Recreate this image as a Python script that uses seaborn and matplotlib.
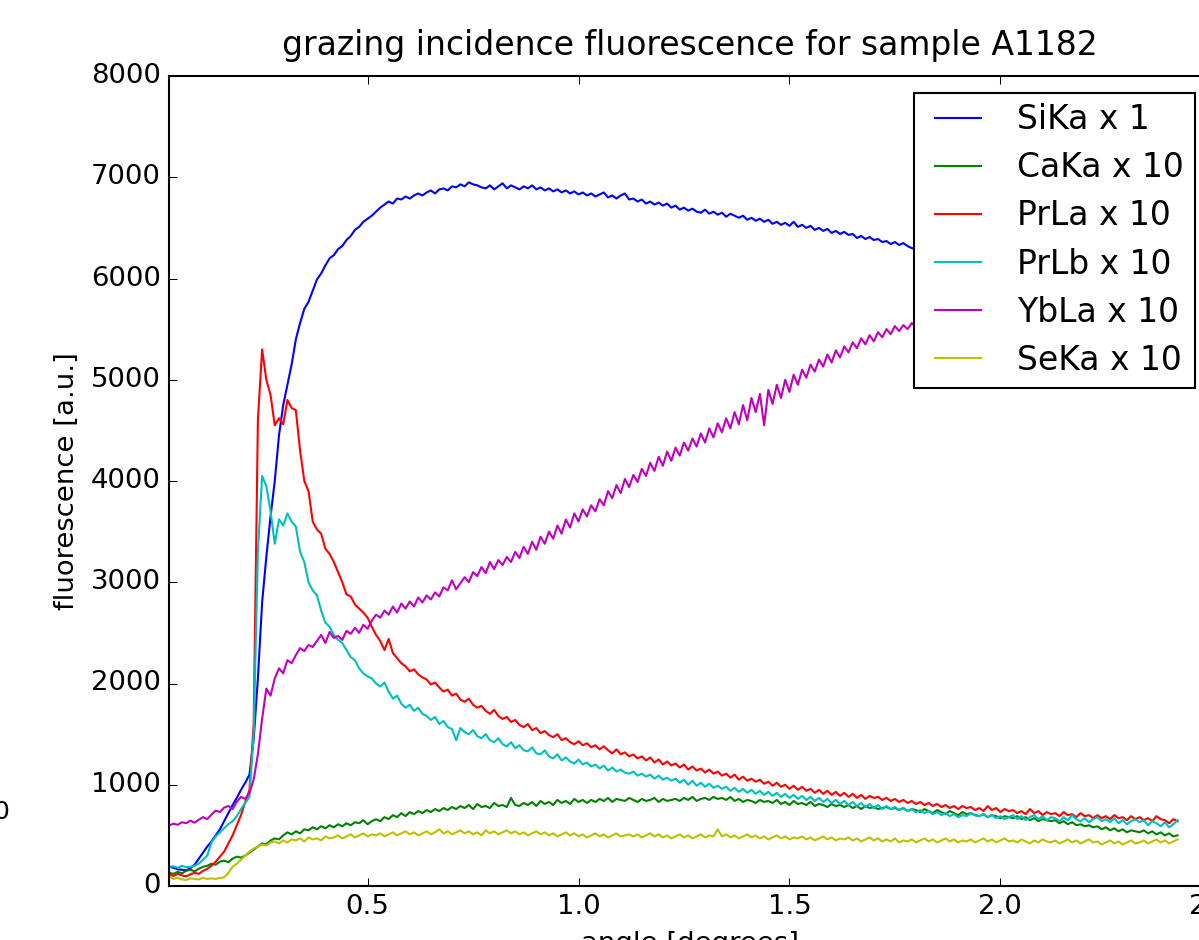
import numpy as np
import matplotlib
matplotlib.use("Agg")
import matplotlib.pyplot as plt
import seaborn as sns

# ---------------- data ----------------
angle = np.round(np.arange(0.03, 2.425, 0.01), 2)

labels = ["SiKa x 1", "CaKa x 10", "PrLa x 10", "PrLb x 10", "YbLa x 10", "SeKa x 10"]
colors = ["b", "g", "r", "c", "m", "y"]

sika = [
    190, 180, 165, 160, 155, 175, 210, 270, 330, 390,
    440, 500, 560, 640, 720, 800, 870, 950, 1020, 1100,
    1450, 2050, 2800, 3250, 3650, 4000, 4450, 4750, 4950, 5150,
    5400, 5560, 5700, 5770, 5880, 5990, 6050, 6130, 6200, 6230,
    6290, 6320, 6380, 6420, 6480, 6510, 6560, 6590, 6620, 6660,
    6700, 6730, 6760, 6740, 6790, 6780, 6810, 6790, 6820, 6840,
    6820, 6850, 6870, 6840, 6880, 6890, 6870, 6910, 6900, 6930,
    6910, 6950, 6930, 6920, 6900, 6890, 6920, 6880, 6910, 6940,
    6890, 6920, 6900, 6880, 6910, 6890, 6920, 6880, 6900, 6870,
    6890, 6860, 6880, 6850, 6870, 6840, 6860, 6830, 6850, 6820,
    6840, 6810, 6830, 6850, 6800, 6820, 6790, 6820, 6840, 6780,
    6790, 6760, 6780, 6740, 6760, 6730, 6750, 6720, 6740, 6700,
    6720, 6680, 6700, 6670, 6690, 6660, 6650, 6680, 6640, 6660,
    6630, 6650, 6610, 6640, 6620, 6600, 6620, 6580, 6600, 6570,
    6590, 6560, 6580, 6540, 6560, 6530, 6550, 6520, 6560, 6510,
    6530, 6500, 6520, 6480, 6500, 6470, 6490, 6450, 6470, 6440,
    6460, 6430, 6440, 6400, 6420, 6390, 6410, 6380, 6390, 6360,
    6370, 6340, 6360, 6330, 6350, 6320, 6300, 6290, 6280, 6260,
    6250, 6240, 6230, 6210, 6200, 6190, 6180, 6170, 6150, 6140,
    6130, 6120, 6110, 6100, 6090, 6080, 6070, 6060, 6050, 6040,
    6030, 6020, 6010, 6000, 5990, 5980, 5970, 5960, 5950, 5940,
    5930, 5920, 5910, 5900, 5890, 5880, 5870, 5860, 5850, 5840,
    5830, 5820, 5810, 5800, 5790, 5780, 5770, 5760, 5750, 5740,
    5730, 5720, 5710, 5700, 5690, 5680, 5670, 5660, 5650, 5640,
]

caka = [
    130, 120, 140, 125, 150, 160, 145, 170, 190, 200,
    220, 210, 240, 250, 235, 270, 290, 280, 300, 330,
    360, 390, 420, 410, 450, 470, 460, 500, 530, 510,
    540, 520, 560, 550, 580, 560, 590, 570, 600, 580,
    610, 590, 620, 600, 630, 620, 650, 610, 640, 660,
    640, 680, 660, 700, 680, 720, 690, 730, 710, 740,
    720, 750, 730, 760, 740, 770, 750, 780, 760, 790,
    770, 800, 760, 810, 780, 790, 770, 820, 790, 800,
    780, 870, 800, 790, 820, 800, 830, 790, 840, 810,
    830, 800, 850, 820, 840, 810, 860, 830, 850, 820,
    850, 830, 860, 840, 870, 830, 860, 850, 840, 870,
    850, 830, 860, 840, 850, 870, 830, 860, 840, 850,
    860, 840, 870, 850, 880, 840, 860, 870, 850, 880,
    860, 870, 850, 880, 840, 860, 830, 850, 840, 820,
    850, 830, 840, 820, 850, 810, 830, 800, 840, 810,
    820, 800, 830, 790, 810, 800, 780, 810, 790, 800,
    780, 800, 770, 790, 760, 790, 770, 780, 760, 770,
    780, 760, 770, 750, 770, 740, 760, 750, 730, 760,
    740, 720, 750, 730, 710, 740, 720, 700, 730, 710,
    720, 700, 690, 710, 680, 700, 690, 670, 690, 680,
    670, 690, 660, 680, 650, 670, 640, 660, 650, 640,
    650, 620, 640, 610, 630, 600, 610, 590, 600, 580,
    590, 560, 580, 550, 570, 540, 560, 530, 550, 540,
    530, 550, 520, 540, 510, 530, 500, 520, 490, 500,
]

prla = [
    110, 100, 120, 105, 95, 115, 130, 120, 150, 170,
    200, 240, 290, 340, 420, 500, 600, 700, 830, 950,
    1600, 4600, 5300, 5000, 4850, 4550, 4620, 4560, 4800, 4720,
    4700, 4300, 4000, 3900, 3600, 3520, 3480, 3330, 3280, 3200,
    3100, 3000, 2880, 2860, 2780, 2740, 2700, 2650, 2560, 2480,
    2420, 2330, 2440, 2300, 2250, 2200, 2170, 2120, 2140, 2090,
    2060, 2040, 1990, 2010, 1960, 1920, 1940, 1880, 1900, 1840,
    1820, 1850, 1790, 1760, 1780, 1730, 1700, 1740, 1680, 1650,
    1670, 1620, 1640, 1590, 1570, 1600, 1540, 1560, 1510, 1530,
    1490, 1470, 1500, 1440, 1460, 1420, 1400, 1430, 1390, 1410,
    1370, 1390, 1350, 1380, 1340, 1310, 1350, 1300, 1320, 1280,
    1300, 1260, 1280, 1240, 1270, 1220, 1250, 1200, 1230, 1190,
    1210, 1170, 1200, 1150, 1180, 1140, 1160, 1120, 1150, 1110,
    1130, 1090, 1110, 1070, 1100, 1050, 1080, 1040, 1060, 1030,
    1050, 1010, 1030, 990, 1020, 980, 1000, 960, 990, 950,
    980, 940, 960, 920, 950, 910, 940, 900, 930, 890,
    920, 880, 910, 870, 900, 860, 890, 870, 880, 850,
    870, 840, 860, 830, 850, 820, 840, 810, 830, 800,
    820, 790, 810, 780, 800, 770, 790, 760, 790, 770,
    780, 750, 770, 740, 790, 750, 770, 730, 760, 740,
    750, 720, 740, 710, 760, 720, 740, 700, 730, 710,
    720, 690, 730, 700, 710, 680, 720, 690, 700, 670,
    700, 670, 690, 660, 700, 670, 680, 650, 690, 660,
    680, 650, 670, 640, 690, 660, 650, 620, 660, 640,
]

prlb = [
    190, 195, 180, 200, 185, 190, 200, 220, 260, 300,
    430, 490, 530, 570, 610, 640, 690, 760, 820, 880,
    1500, 3300, 4050, 3950, 3700, 3380, 3620, 3560, 3680, 3600,
    3550, 3300, 3200, 3000, 2920, 2870, 2720, 2600, 2560, 2480,
    2430, 2400, 2330, 2260, 2230, 2150, 2100, 2070, 2050, 2000,
    1970, 2010, 1920, 1850, 1880, 1800, 1760, 1790, 1730, 1760,
    1700, 1680, 1640, 1670, 1600, 1630, 1570, 1550, 1440, 1560,
    1520, 1500, 1540, 1480, 1460, 1500, 1440, 1420, 1460, 1400,
    1380, 1420, 1360, 1390, 1340, 1330, 1370, 1310, 1300, 1340,
    1280, 1260, 1300, 1240, 1270, 1230, 1210, 1250, 1200, 1220,
    1180, 1200, 1160, 1190, 1140, 1170, 1130, 1150, 1120, 1110,
    1130, 1090, 1110, 1080, 1100, 1060, 1090, 1050, 1070, 1040,
    1060, 1020, 1050, 1000, 1040, 990, 1020, 980, 1010, 970,
    990, 960, 980, 940, 970, 930, 960, 920, 950, 910,
    940, 900, 930, 890, 920, 880, 910, 870, 900, 860,
    890, 850, 880, 840, 870, 830, 860, 820, 850, 810,
    840, 800, 830, 790, 820, 780, 810, 770, 800, 760,
    790, 760, 780, 750, 770, 740, 760, 730, 750, 720,
    740, 710, 730, 700, 720, 690, 710, 680, 700, 690,
    720, 700, 690, 710, 680, 700, 670, 690, 660, 680,
    700, 660, 690, 650, 680, 700, 660, 690, 650, 680,
    670, 640, 680, 650, 700, 660, 640, 670, 630, 660,
    680, 640, 660, 630, 670, 620, 650, 610, 640, 660,
    630, 650, 600, 640, 620, 590, 630, 580, 610, 650,
]

ybla = [
    600, 615, 605, 630, 620, 645, 625, 655, 680, 660,
    705, 745, 730, 775, 790, 760, 830, 880, 860, 920,
    1050, 1300, 1650, 1950, 1880, 2050, 2150, 2100, 2230, 2200,
    2280, 2350, 2320, 2380, 2360, 2420, 2480, 2400, 2510, 2450,
    2470, 2430, 2520, 2490, 2550, 2500, 2580, 2540, 2620, 2680,
    2650, 2720, 2680, 2760, 2700, 2790, 2740, 2810, 2760, 2850,
    2800, 2870, 2830, 2900, 2860, 2950, 2920, 3020, 2930, 2990,
    3050, 3000, 3100, 3060, 3150, 3090, 3200, 3130, 3220, 3170,
    3250, 3200, 3300, 3240, 3350, 3280, 3400, 3320, 3450, 3380,
    3500, 3430, 3560, 3480, 3620, 3540, 3680, 3600, 3720, 3650,
    3760, 3700, 3820, 3760, 3900, 3830, 3960, 3880, 4020, 3940,
    4060, 3990, 4120, 4050, 4180, 4100, 4240, 4150, 4290, 4200,
    4330, 4250, 4380, 4300, 4420, 4340, 4470, 4380, 4520, 4430,
    4570, 4480, 4620, 4520, 4680, 4560, 4750, 4600, 4820, 4680,
    4860, 4550, 4900, 4760, 4950, 4820, 5000, 4880, 5050, 4950,
    5100, 5020, 5150, 5080, 5200, 5130, 5250, 5170, 5290, 5220,
    5330, 5270, 5370, 5310, 5410, 5350, 5440, 5380, 5470, 5420,
    5500, 5450, 5530, 5480, 5540, 5500, 5560, 5520, 5580, 5540,
    5600, 5570, 5620, 5590, 5640, 5610, 5660, 5630, 5680, 5650,
    5700, 5670, 5720, 5690, 5740, 5710, 5760, 5730, 5780, 5750,
    5800, 5770, 5820, 5790, 5840, 5810, 5860, 5830, 5880, 5850,
    5900, 5870, 5920, 5890, 5940, 5910, 5960, 5930, 5980, 5950,
    6000, 5970, 6020, 5990, 6040, 6010, 6060, 6030, 6080, 6050,
    6100, 6070, 6120, 6090, 6140, 6110, 6160, 6130, 6180, 6150,
]

seka = [
    90, 70, 80, 65, 60, 75, 70, 65, 80, 70,
    75, 70, 80, 85, 130, 190, 220, 260, 300, 340,
    370, 390, 410, 400, 430, 440, 420, 450, 430, 460,
    450, 470, 440, 480, 460, 470, 450, 490, 470, 480,
    500, 470, 490, 510, 480, 500, 520, 490, 510, 500,
    520, 490, 510, 530, 500, 520, 540, 510, 530, 500,
    520, 540, 510, 530, 560, 520, 540, 510, 530, 550,
    520, 540, 510, 530, 500, 550, 520, 540, 510, 530,
    550, 520, 540, 510, 530, 500, 520, 540, 510, 530,
    500, 520, 490, 510, 530, 500, 520, 490, 510, 480,
    500, 520, 490, 510, 480, 500, 520, 490, 500, 510,
    490, 510, 480, 500, 520, 490, 510, 480, 500, 470,
    490, 510, 480, 500, 470, 490, 510, 480, 500, 490,
    560, 490, 510, 480, 500, 470, 490, 510, 480, 500,
    470, 490, 460, 480, 500, 470, 490, 460, 480, 470,
    490, 460, 480, 450, 470, 490, 460, 480, 450, 470,
    460, 480, 450, 470, 440, 460, 480, 450, 470, 440,
    460, 440, 470, 430, 450, 440, 460, 430, 450, 470,
    440, 460, 430, 450, 470, 440, 460, 430, 450, 440,
    460, 430, 450, 470, 440, 460, 430, 450, 470, 440,
    450, 430, 460, 440, 420, 450, 430, 460, 440, 430,
    450, 420, 440, 460, 430, 450, 420, 440, 460, 430,
    440, 410, 430, 450, 420, 440, 410, 430, 450, 420,
    430, 450, 420, 440, 460, 430, 450, 420, 440, 460,
]

series = [sika, caka, prla, prlb, ybla, seka]

# ---------------- style ----------------
plt.style.use("classic")
plt.rcParams["figure.facecolor"] = "white"
plt.rcParams["savefig.facecolor"] = "white"
plt.rcParams["font.family"] = ["DejaVu Sans"]
plt.rcParams["font.size"] = 13.2

DPI = 150
fig = plt.figure(figsize=(1199 / DPI, 940 / DPI), dpi=DPI)
ax = fig.add_axes([169.3 / 1199, 54 / 940, 1042 / 1199, 810 / 940])

for vals, lab, col in zip(series, labels, colors):
    sns.lineplot(x=angle, y=np.asarray(vals, dtype=float), color=col, label=lab,
                 ax=ax, linewidth=1.0, estimator=None, sort=False)

ax.set_xlim(0.03, 2.5)
ax.set_ylim(0, 8000)
ax.set_xticks([0.5, 1.0, 1.5, 2.0, 2.5])
ax.set_yticks([0, 1000, 2000, 3000, 4000, 5000, 6000, 7000, 8000])
ax.set_title("grazing incidence fluorescence for sample A1182", pad=10)
ax.set_xlabel("angle [degrees]")
ax.set_ylabel("fluorescence [a.u.]")
ax.legend(loc="upper right", labelspacing=0.46, borderpad=0.32)

# cropped fragment of a neighbouring label at the far left
fig.text(1 / 1199, 1 - 812 / 940, "0", ha="center", va="center", fontsize=12)

fig.savefig("out.png", dpi=DPI)
